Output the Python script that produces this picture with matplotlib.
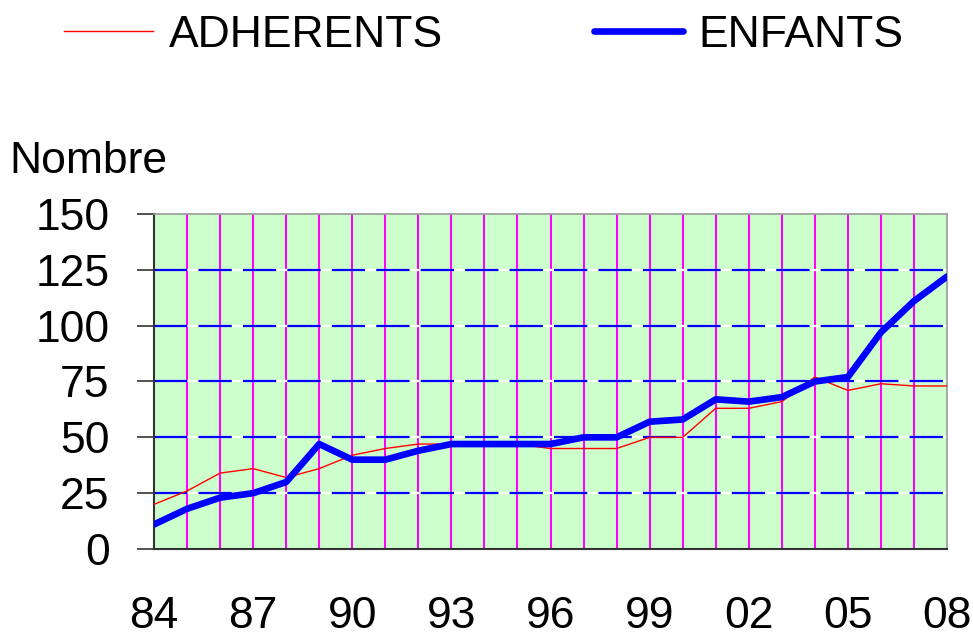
import matplotlib.pyplot as plt
from matplotlib.ticker import MultipleLocator

plt.rcParams['font.family'] = ['Liberation Sans', 'DejaVu Sans']

# ------------------------------------------------------------
# Data
# ------------------------------------------------------------

years = list(range(1984, 2009))
adherents = [20, 26, 34, 36, 32, 36, 42, 45, 47, 47, 47, 47, 45, 45, 45,
             50, 50, 63, 63, 66, 77, 71, 74, 73, 73]
enfants = [11, 18, 23, 25, 30, 47, 40, 40, 44, 47, 47, 47, 47, 50, 50,
           57, 58, 67, 66, 68, 75, 77, 97, 111, 122]
tick_years = list(range(1984, 2009, 3))
tick_labels = ["%02d" % (y % 100) for y in tick_years]

FS = 32

fig = plt.figure(figsize=(9.73, 6.37), dpi=100)
ax = fig.add_axes([0.1583, 0.1381, 0.815, 0.526])
ax.set_facecolor("#CCFFCC")

# vertical magenta grid at every year
for y in years[1:-1]:
    ax.axvline(y, color="#FF00FF", lw=1.5, zorder=1)

# horizontal dashed grid
for v in range(25, 150, 25):
    ax.axhline(v, color="white", lw=1.6, zorder=1)
    ax.axhline(v, color="#0000FF", lw=1.6, ls=(0, (15, 5)), zorder=1.5)

ax.plot(years, adherents, color="#FF0000", lw=1.0, label="ADHERENTS", zorder=3)
ax.plot(years, enfants, color="#0000FF", lw=4.8, label="ENFANTS", zorder=4,
        solid_capstyle="round")

ax.set_xlim(1984, 2008)
ax.set_ylim(0, 150)
ax.yaxis.set_major_locator(MultipleLocator(25))
ax.set_xticks(tick_years)
ax.set_xticklabels(tick_labels)
ax.tick_params(axis="x", length=0, pad=34, labelsize=FS)
ax.tick_params(axis="y", length=12, width=1.2, color="#333333", pad=20,
               labelsize=FS)

for s in ["left", "bottom"]:
    ax.spines[s].set_color("#333333")
    ax.spines[s].set_linewidth(1.5)
for s in ["top", "right"]:
    ax.spines[s].set_color("#999999")
    ax.spines[s].set_linewidth(1.2)

fig.text(0.01, 0.715, "Nombre", fontsize=FS, ha="left", va="bottom")

fig.legend(loc="upper left", bbox_to_anchor=(0.025, 1.04), ncol=2,
           frameon=False, fontsize=FS, handlelength=2.0, handletextpad=0.35,
           columnspacing=3.4)

fig.savefig("out.png", dpi=100)
